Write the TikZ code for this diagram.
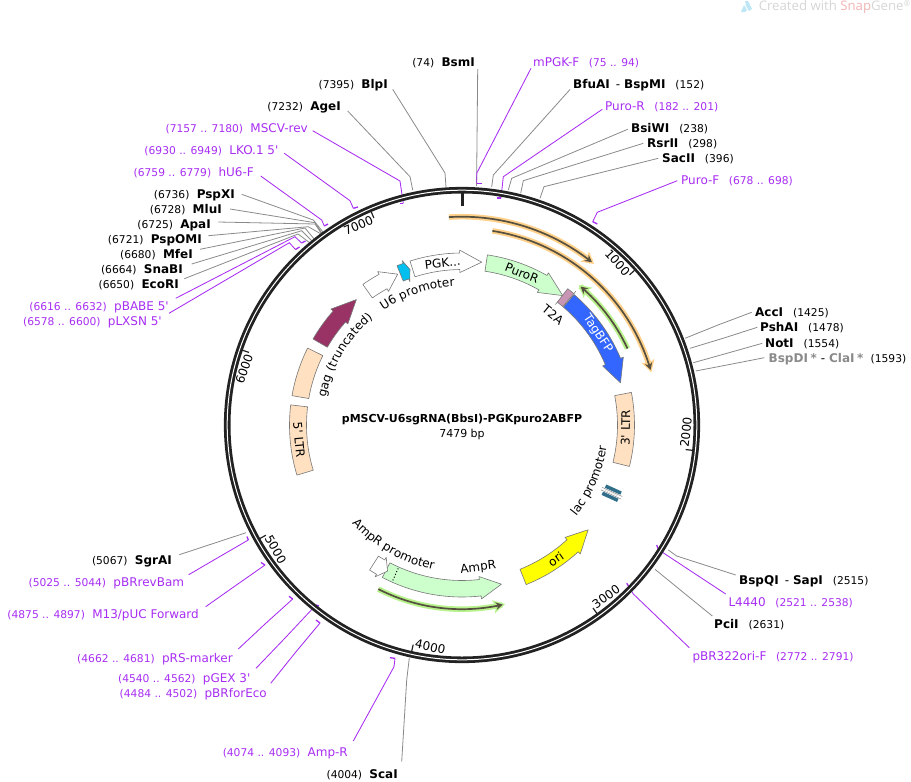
\documentclass[tikz,border=0pt]{standalone}
\usepackage{fontspec}
\setmainfont{DejaVu Sans}
\newfontfamily\markfont{Open Sans}
\usetikzlibrary{arrows.meta}
\usetikzlibrary{decorations.text}

\definecolor{primerpurple}{HTML}{A72DF2}
\definecolor{ringblack}{HTML}{222222}
\definecolor{leadgray}{HTML}{8A8A8A}
\definecolor{featline}{HTML}{777777}
\definecolor{ltrpeach}{HTML}{FFE0C0}
\definecolor{cdsgreen}{HTML}{CCFFCC}
\definecolor{gagmaroon}{HTML}{993366}
\definecolor{bfpblue}{HTML}{3366FF}
\definecolor{uvcyan}{HTML}{00BFEE}
\definecolor{ttwoa}{HTML}{C896B4}
\definecolor{oriyellow}{HTML}{FFFF00}
\definecolor{laqteal}{HTML}{2F6F8A}
\definecolor{haloorange}{HTML}{FFD08A}
\definecolor{halogreen}{HTML}{B8F28C}
\definecolor{readdark}{HTML}{55503F}
\definecolor{markgray}{HTML}{D6D6D6}
\definecolor{markpink}{HTML}{F2B4B4}
\definecolor{markblue}{HTML}{BFE6F5}

\newcommand{\loc}[1]{{\fontsize{10.7}{13}\selectfont(#1)}}
% arrow on the inner track: style, tail, flange, tip (degrees clockwise from top)
\newcommand{\featarrow}[4]{%
  \draw[#1] plot[domain=#2:#3, samples=24] (\x-90:172) -- (#3-90:175) -- (#4-90:164)
    -- (#3-90:152.5) -- plot[domain=#3:#2, samples=24] (\x-90:155.5) -- cycle;}
\newcommand{\featbox}[3]{%
  \draw[#1] plot[domain=#2:#3, samples=24] (\x-90:172.5) -- plot[domain=#3:#2, samples=24] (\x-90:155.5) -- cycle;}
% halo colour, radius, start, end
\newcommand{\readarc}[5]{%
  \draw[halo, #1] plot[domain=#3:#5, samples=40] (\x-90:#2);
  \draw[readline] plot[domain=#3:#4, samples=40] (\x-90:#2);}
\newcommand{\arctext}[4]{%
  \path[decorate, decoration={text along path, text align=center,
    text={|\fontsize{12}{14}\selectfont|#4}}] plot[domain=#2:#3, samples=40] (\x-90:#1);}

\begin{document}
\begin{tikzpicture}[
  x=1pt, y=-1pt,
  sitelbl/.style={inner sep=0pt, text height=10pt, text depth=2pt, font=\fontsize{12}{14}\selectfont},
  primerlbl/.style={sitelbl, text=primerpurple},
  sitelead/.style={leadgray, line width=0.8pt},
  primerlead/.style={primerpurple, line width=0.85pt},
  ring/.style={ringblack, line width=6.6pt},
  ringgap/.style={white, line width=1pt},
  feat/.style={draw=featline, line width=0.6pt, line join=round},
  inlbl/.style={sitelbl},
  halo/.style={line width=5.5pt, -{Stealth[length=12pt, width=13pt, inset=2.5pt]}},
  readline/.style={readdark, line width=1.7pt, -{Stealth[length=7pt, width=7.5pt]}}
]
\useasboundingbox (0,0) rectangle (911,782);

\foreach \nm/\nx/\ny/\pos/\dx/\dy/\bx/\by/\ex/\ey in {
  BsmI/475/62/74/2.7/7/476.7/173/476.5/186,
  BlpI/388/84/7395/4.7/5.3/445/173/446/187,
  AgeI/341/106/7232/6.7/5/410/176.7/412.7/190,
  PspXI/235/194/6736/6.7/0.3/313.3/220/322.9/231.9,
  MluI/222/209/6728/8/0/315/222.7/321.6/232.8,
  ApaI/211/224/6725/7.3/-2/315/224/321/233,
  PspOMI/202/239/6721/6.3/-3.3/308.3/226.7/320.5/233.7,
  MfeI/193/254/6680/7/-4.7/305/228/314/238.8,
  SnaBI/183/269/6664/8.7/-5/301.7/230.7/311.6/240.6,
  EcoRI/179/284/6650/5.3/-5.3/298/234/309.4/242.5,
  SgrAI/172/560/5067/7.3/-5.3/236/536/246/532.7,
  ScaI/398/774/4004/3.7/-12.3/406.7/680/409.3/658}{
  \node[sitelbl, anchor=east] (\nm) at (\nx,\ny) {\loc{\pos}\hspace{7.3pt}\textbf{\nm}};
  \coordinate (\nm bend) at (\bx,\by);
  \coordinate (\nm end) at (\ex,\ey);
  \draw[sitelead] ([shift={(\dx,\dy)}]\nm.east) -- (\nm bend) -- (\nm end);
}

\foreach \nm/\txt/\nx/\ny/\pos/\dx/\dy/\bx/\by/\ex/\ey in {
  BfuAI/{\textbf{BfuAI}\hspace{6pt}-\hspace{4pt}\textbf{BspMI}\hspace{10pt}}/573/84/152/-3/5.5/493.3/175/491.7/187,
  BsiWI/{\textbf{BsiWI}\hspace{10pt}}/631/128/238/-3.3/1.3/511.7/178.3/508.3/190,
  RsrII/{\textbf{RsrII}\hspace{10pt}}/647/143/298/-3.7/0.3/523.3/180.7/520.7/193.3,
  SacII/{\textbf{SacII}\hspace{10pt}}/662/158/396/-3.7/0.3/544/186.7/540/198.3,
  AccI/{\textbf{AccI}\hspace{10pt}}/755/312/1425/-3.3/0.3/718/325/685/338.3,
  PshAI/{\textbf{PshAI}\hspace{10pt}}/760/327/1478/-2.7/0.3/724/338/690/348.3,
  NotI/{\textbf{NotI}\hspace{10pt}}/765/343/1554/-2.7/0.3/728/353/693.3/362.7,
  BspDI/{\textcolor{leadgray}{\textbf{BspDI\hspace{2.5pt}*}}\hspace{4pt}-\hspace{4pt}\textcolor{leadgray}{\textbf{ClaI\hspace{2.5pt}*}}\hspace{7.3pt}}/768.5/358/1593/-4.2/-0.3/730/364.4/695.7/371,
  BspQI/{\textbf{BspQI}\hspace{6pt}-\hspace{4pt}\textbf{SapI}\hspace{10pt}}/739/580/2515/-3.3/-5/676.7/556/668.3/550,
  PciI/{\textbf{PciI}\hspace{10pt}}/714/624/2631/-1.7/-8/684/593/655/569.3}{
  \node[sitelbl, anchor=west] (\nm) at (\nx,\ny) {\txt\loc{\pos}};
  \coordinate (\nm bend) at (\bx,\by);
  \coordinate (\nm end) at (\ex,\ey);
  \draw[sitelead] ([shift={(\dx,\dy)}]\nm.west) -- (\nm bend) -- (\nm end);
}

\foreach \nm/\txt/\nx/\ny/\pos/\dx/\dy/\bx/\by/\ex/\ey/\tx/\ty in {
  MSCV/MSCV-rev/308/128/7157 .. 7180/4.7/2.7/400/181/403.3/203.3/400/203.3,
  LKO/LKO.1 5\textquotesingle/278.6/150/6930 .. 6949/5.7/3.3/350/200.7/353.3/208.3/358/207,
  hUsix/hU6-F/254/172/6759 .. 6779/6.7/4/321.7/220/324.3/226/328/224,
  pBABE/pBABE 5\textquotesingle/169/306/6616 .. 6632/6.7/-7.7/295/236.7/301.5/243/305.5/241,
  pLXSN/pLXSN 5\textquotesingle/162/321/6578 .. 6600/7/-7.7/289.3/242.7/295.5/249.5/299.5/247,
  pBRrev/pBRrevBam/184.3/582/5025 .. 5044/4.4/-7.3/218.5/557.3/248.3/540/247/536.5,
  Mthirteen/{M13/pUC Forward}/199/614/4875 .. 4897/6.7/-7.3/235/586/265/565/261/562.5,
  pRS/pRS-marker/233/658/4662 .. 4681/5.3/-9/265/624/292.7/599/289/596.3,
  pGEX/pGEX 3\textquotesingle/250.6/678/4540 .. 4562/5.4/-9.7/286/637/316/605/319/606,
  pBRfor/pBRforEco/267/693/4484 .. 4502/3.7/-9.7/295/653/320/623/316/620,
  AmpRprimer/Amp-R/348/752/4074 .. 4093/5.3/-11/394/666.7/395/658.3/390/657.7}{
  \node[primerlbl, anchor=east] (\nm) at (\nx,\ny) {\loc{\pos}\hspace{7.3pt}\txt};
  \coordinate (\nm bend) at (\bx,\by);
  \coordinate (\nm end) at (\ex,\ey);
  \coordinate (\nm tick) at (\tx,\ty);
  \draw[primerlead] ([shift={(\dx,\dy)}]\nm.east) -- (\nm bend) -- (\nm end);
  \draw[primerlead, line width=1.3pt] (\nm end) -- (\nm tick);
}

\foreach \nm/\txt/\nx/\ny/\pos/\dx/\dy/\bx/\by/\ex/\ey/\tx/\ty in {
  mPGK/mPGK-F/533/62/75 .. 94/-2/6.3/476.7/173.3/476.7/183.3/481.7/183.3,
  PuroRprimer/Puro-R/605/106/182 .. 201/-2.7/3.3/503.3/176.7/501/198/497/198,
  PuroF/Puro-F/681/180/678 .. 698/-3.7/0.7/597.3/212.3/592.7/221.7/597.3/224,
  Lfourk/L4440/728.3/602/2521 .. 2538/-2.6/-8/665/554/658.3/549.3/656.7/545,
  pBRori/pBR322ori-F/692.3/656/2772 .. 2791/-3/-8.3/633.3/594/629.3/587.3/626.7/583.3}{
  \node[primerlbl, anchor=west] (\nm) at (\nx,\ny) {\txt\hspace{9.6pt}\loc{\pos}};
  \coordinate (\nm bend) at (\bx,\by);
  \coordinate (\nm end) at (\ex,\ey);
  \coordinate (\nm tick) at (\tx,\ty);
  \draw[primerlead] ([shift={(\dx,\dy)}]\nm.west) -- (\nm bend) -- (\nm end);
  \draw[primerlead, line width=1.3pt] (\nm end) -- (\nm tick);
}

\begin{scope}[shift={(462,425)}]
\draw[ring] (0,0) circle[radius=234.8pt];
\draw[ringgap] (0,0) circle[radius=234.8pt];
\draw[ringblack, line width=3pt] (-90:233) -- (-90:219);

\foreach \val/\rot in {1000/-48.1,2000/83.7,3000/35.6,4000/-12.5,5000/-60.7,6000/71.2,7000/23.1}{
  \pgfmathsetmacro{\tang}{\val/7479*360-90}
  \draw[ringblack, line width=1.2pt] (\tang:233) -- (\tang:225);
  \node[sitelbl, rotate=\rot] (tick\val) at (\tang-4.4:224.5) {\val};
}

\readarc{haloorange}{208.3}{-3.6}{38.6}{39.4}
\readarc{haloorange}{196.5}{8.9}{73.7}{74.5}
\readarc{halogreen}{182.3}{65.2}{40.6}{39.8}
\readarc{halogreen}{184.2}{207}{167.2}{166.4}

\featarrow{feat, fill=white}{-35.2}{-28.8}{-23.1}
\featarrow{feat, fill=uvcyan}{-22.2}{-20}{-18.5}
\featarrow{feat, fill=white}{-17.6}{-0.8}{6.9}
\featarrow{feat, fill=cdsgreen}{8.5}{29.6}{37.9}
\featbox{feat, fill=ttwoa}{37.8}{40.4}
\draw[feat] (40.4-90:172.5) -- (40.4-90:175.5) (37.8-90:155.5) -- (37.8-90:152.5);
\featarrow{feat, fill=bfpblue}{40.7}{67.2}{75.1}
\featbox{feat, fill=ltrpeach}{79.1}{103.9}
\featarrow{feat, fill=oriyellow}{158.1}{137.5}{129.7}
\featarrow{feat, fill=cdsgreen}{207.6}{173.6}{166.1}
\draw[black, line width=1pt, dotted] (204-90:157) -- (204-90:171);
\featarrow{feat, fill=white}{212.5}{209.8}{207}
\featbox{feat, fill=ltrpeach}{253.1}{276.7}
\featbox{feat, fill=ltrpeach}{279.8}{296.5}
\featarrow{feat, fill=gagmaroon}{300}{311.5}{319.9}

\begin{scope}[shift={(114.5-90:164.5)}, rotate=-24.5]
  \draw[leadgray, line width=0.5pt] (-11,-1.4) -- (11,-1.4) (-11,1.4) -- (11,1.4);
  \draw[white!60!leadgray, line width=1pt, dash pattern=on 1pt off 1pt] (-7,0) -- (7,0);
  \fill[laqteal] (-8.5,-5.7) rectangle (8.5,-2.2) (-8.5,2.2) rectangle (8.5,5.7);
\end{scope}

\foreach \nm/\ang/\rad/\rot/\txt in {
  PuroRlabel/21.5/163/-21.5/PuroR,
  Ttwoalabel/39.5/142.6/-39.5/T2A,
  TagBFPlabel/56.1/164.3/-56.1/\textcolor{white}{TagBFP},
  LTRthree/91/164/89/3\textquotesingle{} LTR,
  orilabel/145/164/35/ori,
  AmpRlabel/173.5/143/6.5/AmpR,
  LTRfive/264.7/164/-84.7/5\textquotesingle{} LTR}{
  \node[inlbl, rotate=\rot] (\nm) at (\ang-90:\rad) {\txt};
}
\node[inlbl, rotate=6.8] (PGKlabel) at (-6.8-90:162.9) {PGK...};

\arctext{139}{-41.7}{4.3}{U6 promoter}
\arctext{139}{265.8}{335.8}{gag (truncated)}
\arctext{146.3}{135.5}{91.5}{lac promoter}
\arctext{147.5}{239.7}{179.7}{AmpR promoter}
\end{scope}

\node[inner sep=0pt, font=\fontsize{11}{13}\selectfont\bfseries] (plasmidname) at (462,420) {pMSCV-U6sgRNA(BbsI)-PGKpuro2ABFP};
\node[inner sep=0pt, font=\fontsize{11}{13}\selectfont] (plasmidsize) at (462,434.5) {7479 bp};

\fill[markblue] (745,1) -- (748,1) -- (752,9) -- (749,11) -- (746,6) -- cycle;
\fill[markblue] (741,12) -- (744,5) -- (747,10) -- (745,12) -- cycle;
\node[inner sep=0pt, anchor=east, font=\markfont\fontsize{13.2}{15}\selectfont, text=markgray] (watermark) at (911,7)
  {Created with \textcolor{markpink}{Snap}Gene\textsuperscript{\fontsize{8}{9}\selectfont ®}};
\end{tikzpicture}
\end{document}
